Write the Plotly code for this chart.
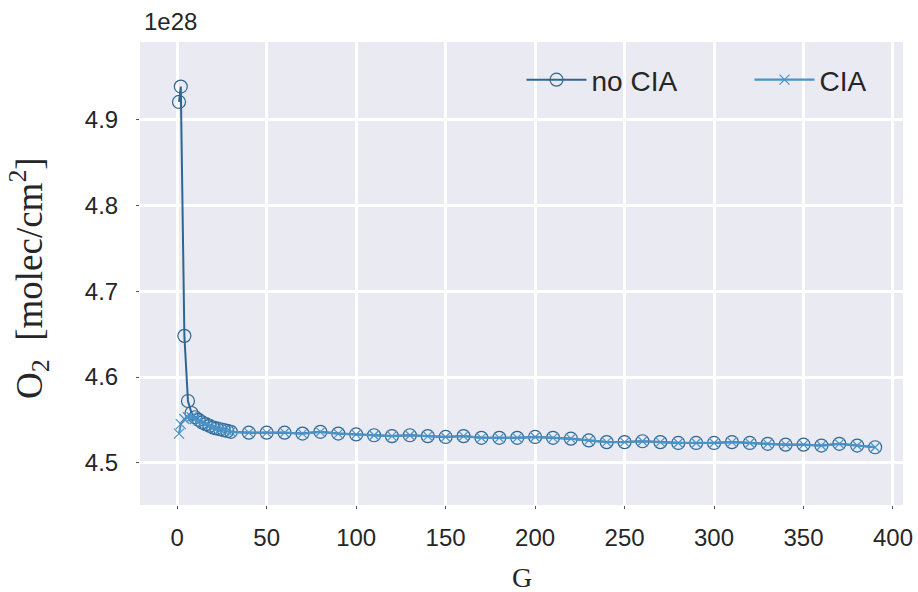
import plotly.graph_objects as go

# Column density of O2 versus G, with and without collision-induced absorption.
# Values are in units of 1e28 molec/cm^2.
G = [1, 2, 4, 6, 8, 10, 12, 14, 16, 18, 20, 22, 24, 26, 28, 30,
     40, 50, 60, 70, 80, 90, 100, 110, 120, 130, 140, 150, 160, 170, 180, 190,
     200, 210, 220, 230, 240, 250, 260, 270, 280, 290, 300, 310, 320, 330, 340,
     350, 360, 370, 380, 390]

tail = [4.535, 4.535, 4.535, 4.534, 4.536, 4.534, 4.533, 4.532, 4.531, 4.532,
        4.531, 4.530, 4.531, 4.529, 4.529, 4.529, 4.530, 4.529, 4.528, 4.526,
        4.524, 4.524, 4.525, 4.524, 4.523, 4.523, 4.523, 4.524, 4.523, 4.522,
        4.521, 4.521, 4.520, 4.522, 4.520, 4.518]

no_cia = [4.921, 4.939, 4.648, 4.572, 4.558, 4.553, 4.550, 4.547, 4.545, 4.543,
          4.541, 4.540, 4.539, 4.538, 4.537, 4.536] + tail

cia = [4.534, 4.545, 4.551, 4.553, 4.553, 4.551, 4.549, 4.547, 4.545, 4.543,
       4.541, 4.540, 4.539, 4.538, 4.537, 4.536] + tail

x_ticks = [0, 50, 100, 150, 200, 250, 300, 350, 400]
y_ticks = [4.5, 4.6, 4.7, 4.8, 4.9]

DARK = "#2f6690"
LIGHT = "#4a93c9"
TEXT = "#262626"

fig = go.Figure()
fig.add_trace(go.Scatter(
    x=G, y=no_cia, name="no CIA", mode="lines+markers",
    line=dict(color=DARK, width=2),
    marker=dict(symbol="circle-open", size=13, color=DARK,
                line=dict(color=DARK, width=1.2)),
))
fig.add_trace(go.Scatter(
    x=G, y=cia, name="CIA", mode="lines+markers",
    line=dict(color=LIGHT, width=2.2),
    marker=dict(symbol="x-thin-open", size=10, color=LIGHT,
                line=dict(color=LIGHT, width=1.2)),
))

L, R, T, B = 140, 15, 42, 87
W, H = 918, 592

fig.update_layout(
    width=W, height=H,
    margin=dict(l=L, r=R, t=T, b=B, autoexpand=False),
    paper_bgcolor="white",
    plot_bgcolor="#EAEAF2",
    font=dict(family="Liberation Sans, Arial, sans-serif", color=TEXT, size=24),
    showlegend=True,
    legend=dict(
        orientation="h",
        x=0.5, xanchor="left",
        y=0.918, yanchor="middle",
        bgcolor="rgba(0,0,0,0)",
        font=dict(size=28, color=TEXT),
        itemwidth=60,
        entrywidth=153,
    ),
    xaxis=dict(
        range=[-20.8, 405.6],
        tickvals=x_ticks,
        ticktext=[str(v) for v in x_ticks],
        showgrid=True, gridcolor="white", gridwidth=2.5,
        zeroline=False, showline=False,
        ticks="outside", ticklen=3, tickwidth=1, tickcolor="#555555",
        ticklabelstandoff=8,
        tickfont=dict(size=24, color=TEXT),
    ),
    yaxis=dict(
        range=[4.4506, 4.991],
        tickvals=y_ticks,
        ticktext=[f"{v:.1f}" for v in y_ticks],
        showgrid=True, gridcolor="white", gridwidth=2.5,
        zeroline=False, showline=False,
        ticks="outside", ticklen=3, tickwidth=1, tickcolor="#555555",
        ticklabelstandoff=13,
        tickfont=dict(size=24, color=TEXT),
    ),
)

pw = W - L - R
ph = H - T - B

# offset factor above the y axis
fig.add_annotation(
    text="1e28", xref="paper", yref="paper",
    x=(142 - L) / pw, y=1 + (T - 22) / ph,
    xanchor="left", yanchor="middle", showarrow=False,
    font=dict(size=24, color=TEXT, family="Liberation Sans, Arial, sans-serif"),
)

# axis titles
fig.add_annotation(
    text="O<sub>2</sub>  [molec/cm<sup>2</sup>]", xref="paper", yref="paper",
    x=(29 - L) / pw, y=1 - (278 - T) / ph,
    xanchor="center", yanchor="middle", textangle=-90, showarrow=False,
    font=dict(size=37, color=TEXT, family="Liberation Serif, serif"),
)
fig.add_annotation(
    text="G", xref="paper", yref="paper",
    x=(522 - L) / pw, y=-(577 - (H - B)) / ph,
    xanchor="center", yanchor="middle", showarrow=False,
    font=dict(size=28, color=TEXT, family="Liberation Serif, serif"),
)

fig.write_html("out.html")
